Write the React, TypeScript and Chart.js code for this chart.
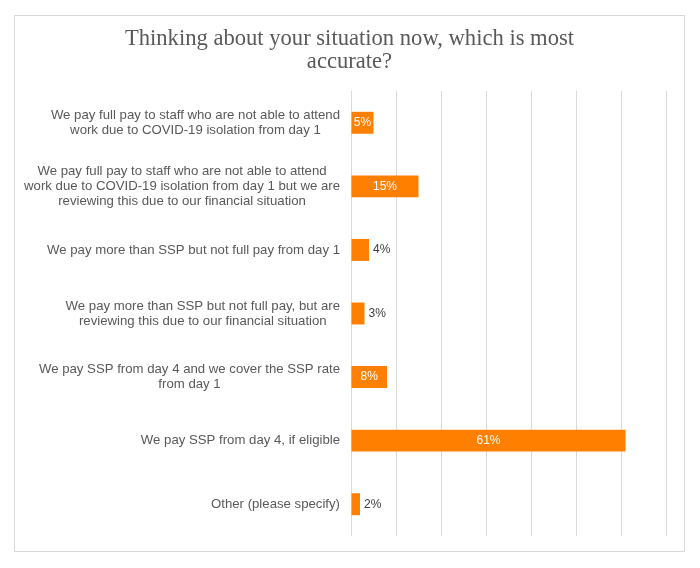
import React, { useEffect, useRef } from 'react';
import { Chart, registerables } from 'chart.js';

Chart.register(...registerables);

const titleLines = ['Thinking about your situation now, which is most', 'accurate?'];

const categories: string[][] = [
  ['We pay full pay to staff who are not able to attend', 'work due to COVID-19 isolation from day 1'],
  ['We pay full pay to staff who are not able to attend', 'work due to COVID-19 isolation from day 1 but we are', 'reviewing this due to our financial situation'],
  ['We pay more than SSP but not full pay from day 1'],
  ['We pay more than SSP but not full pay, but are', 'reviewing this due to our financial situation'],
  ['We pay SSP from day 4 and we cover the SSP rate', 'from day 1'],
  ['We pay SSP from day 4, if eligible'],
  ['Other (please specify)'],
];

const values = [5, 15, 4, 3, 8, 61, 2];

const axisMax = 70;
const axisStep = 10;

const CAT_FONT = '13.2px "Liberation Sans", Arial, sans-serif';
const VAL_FONT = '12px "Liberation Sans", Arial, sans-serif';
const TITLE_FONT = '22.6px "Liberation Serif", "Times New Roman", serif';

const titlePlugin = {
  id: 'customTitle',
  afterDraw(chart: any) {
    const ctx = chart.ctx;
    ctx.save();
    ctx.font = TITLE_FONT;
    ctx.fillStyle = '#595959';
    ctx.textAlign = 'center';
    ctx.textBaseline = 'middle';
    const cx = chart.width / 2;
    titleLines.forEach((l, j) => ctx.fillText(l, cx, 23 + j * 23));
    ctx.restore();
  },
};

const categoryLabelPlugin = {
  id: 'categoryLabels',
  afterDraw(chart: any) {
    const ctx = chart.ctx;
    const yScale = chart.scales.y;
    const area = chart.chartArea;
    ctx.save();
    ctx.font = CAT_FONT;
    ctx.fillStyle = '#595959';
    ctx.textAlign = 'center';
    ctx.textBaseline = 'middle';
    categories.forEach((lines, i) => {
      const cy = yScale.getPixelForValue(i);
      const w = Math.max(...lines.map((l) => ctx.measureText(l).width));
      const cx = area.left - 11 - w / 2;
      const lh = 15;
      lines.forEach((l, j) => {
        ctx.fillText(l, cx, cy + (j - (lines.length - 1) / 2) * lh);
      });
    });
    ctx.restore();
  },
};

const valueLabelPlugin = {
  id: 'valueLabels',
  afterDatasetsDraw(chart: any) {
    const ctx = chart.ctx;
    const meta = chart.getDatasetMeta(0);
    ctx.save();
    ctx.font = VAL_FONT;
    ctx.textBaseline = 'middle';
    meta.data.forEach((bar: any, i: number) => {
      const v = values[i];
      const text = v + '%';
      if (v >= 5) {
        ctx.fillStyle = '#ffffff';
        ctx.textAlign = 'center';
        ctx.fillText(text, (bar.base + bar.x) / 2, bar.y);
      } else {
        ctx.fillStyle = '#404040';
        ctx.textAlign = 'left';
        ctx.fillText(text, bar.x + 4, bar.y);
      }
    });
    ctx.restore();
  },
};

export default function App() {
  const canvasRef = useRef<HTMLCanvasElement | null>(null);

  useEffect(() => {
    if (!canvasRef.current) return;
    const chart = new Chart(canvasRef.current, {
      type: 'bar',
      data: {
        labels: categories.map((c) => c.join(' ')),
        datasets: [
          {
            data: values,
            backgroundColor: '#ff7f00',
            borderWidth: 0,
            categoryPercentage: 1,
            barPercentage: 0.345,
          },
        ],
      },
      options: {
        indexAxis: 'y',
        animation: false,
        responsive: true,
        maintainAspectRatio: false,
        layout: { padding: { left: 336, right: 18, top: 75, bottom: 15 } },
        plugins: {
          legend: { display: false },
          tooltip: { enabled: false },
          title: { display: false },
        },
        scales: {
          x: {
            min: 0,
            max: axisMax,
            ticks: { display: false, stepSize: axisStep },
            grid: { color: '#d9d9d9', lineWidth: 1, drawTicks: false },
            border: { display: false },
          },
          y: {
            display: false,
          },
        },
      },
      plugins: [titlePlugin, categoryLabelPlugin, valueLabelPlugin],
    });
    return () => chart.destroy();
  }, []);

  return (
    <div style={{ padding: '7px 0 0 6px' }}>
      <div
        style={{
          width: 671,
          height: 537,
          border: '1px solid #d9d9d9',
          boxSizing: 'border-box',
          position: 'relative',
          background: '#fff',
        }}
      >
        <div style={{ position: 'relative', width: 669, height: 535 }}>
          <canvas ref={canvasRef} />
        </div>
      </div>
    </div>
  );
}
